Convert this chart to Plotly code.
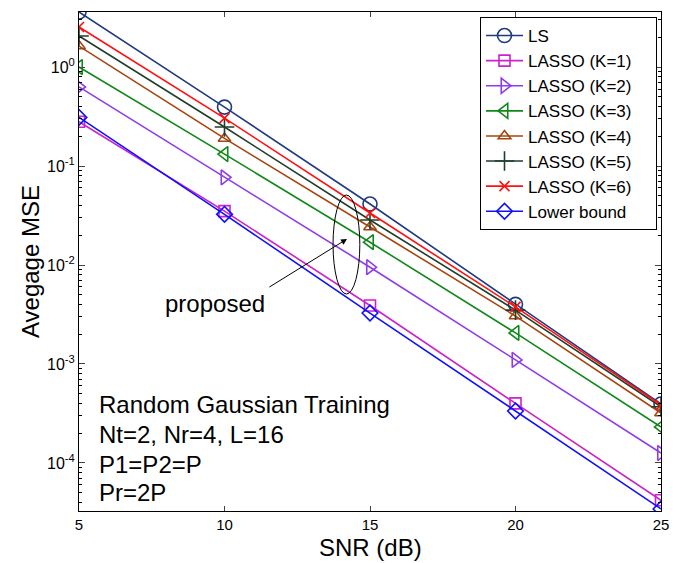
import plotly.graph_objects as go
import math

snr = [5, 10, 15, 20, 25]

ls_mse = [3.6, 0.394, 0.0413, 0.0040, 0.000394]
k1_mse = [0.28, 0.035, 0.0039, 0.00040, 0.000042]
k2_mse = [0.63, 0.077, 0.0095, 0.0011, 0.000126]
k3_mse = [1.0, 0.132, 0.017, 0.00206, 0.000231]
k4_mse = [1.63, 0.19, 0.0242, 0.00305, 0.00032]
k5_mse = [2.06, 0.248, 0.0285, 0.0035, 0.00037]
k6_mse = [2.54, 0.305, 0.0335, 0.00377, 0.000385]
lb_mse = [0.31, 0.0325, 0.00327, 0.000335, 0.0000343]

names = ["LS", "LASSO (K=1)", "LASSO (K=2)", "LASSO (K=3)", "LASSO (K=4)",
         "LASSO (K=5)", "LASSO (K=6)", "Lower bound"]
series = [ls_mse, k1_mse, k2_mse, k3_mse, k4_mse, k5_mse, k6_mse, lb_mse]
colors = ["#1F3A80", "#CC22CC", "#8F3BE8", "#11881A", "#A5450E",
          "#1F3F2C", "#FF1010", "#1010FF"]
symbols = ["circle-open", "square-open", "triangle-right-open", "triangle-left-open",
           "triangle-up-open", "cross-thin-open", "x-thin-open", "diamond-open"]
sizes = [14, 11, 13, 13, 11, 14, 10, 12]

ytick_vals = [1, 0.1, 0.01, 0.001, 0.0001]
ytick_text = ["10<sup>0</sup>", "10<sup>-1</sup>", "10<sup>-2</sup>",
              "10<sup>-3</sup>", "10<sup>-4</sup>"]
xtick_vals = [5, 10, 15, 20, 25]

info_lines = ["Random Gaussian Training", "Nt=2, Nr=4, L=16", "P1=P2=P", "Pr=2P"]

font_family = "Liberation Sans, Arial, sans-serif"

# The page body has an 8px margin, so the figure is drawn 8px in from the top-left.
PAGE_OFF = 8
PLOT_L, PLOT_R, PLOT_T, PLOT_B = 79, 661, 12, 511  # plot area in page pixels
FIG_W, FIG_H = 699 - PAGE_OFF, 563 - PAGE_OFF
PW, PH = PLOT_R - PLOT_L, PLOT_B - PLOT_T


def px(xp):
    return (xp - PLOT_L) / PW


def py(yp):
    return (PLOT_B - yp) / PH


LEGEND_PAD = "\u00a0" * 4  # widens the legend box like the reference

fig = go.Figure()
for name, vals, c, s, sz in zip(names, series, colors, symbols, sizes):
    fig.add_trace(go.Scatter(
        x=snr, y=vals, name=name + LEGEND_PAD, mode="lines+markers",
        line=dict(color=c, width=1.6),
        marker=dict(symbol=s, size=sz, color=c, line=dict(color=c, width=1.6)),
    ))

minor_vals = [m * 10.0 ** k for k in range(-5, 1) for m in range(2, 10)]

fig.update_layout(
    width=FIG_W, height=FIG_H,
    margin=dict(l=PLOT_L - PAGE_OFF, r=699 - PLOT_R, t=PLOT_T - PAGE_OFF,
                b=563 - PLOT_B, autoexpand=False),
    paper_bgcolor="white", plot_bgcolor="white",
    font=dict(family=font_family, color="black"),
    showlegend=True,
    legend=dict(
        x=px(657), y=py(17), xanchor="right", yanchor="top",
        bordercolor="black", borderwidth=1, bgcolor="white",
        font=dict(size=17, family=font_family),
        tracegroupgap=0, itemwidth=37,
    ),
)

fig.update_xaxes(
    range=[5, 25], tickvals=xtick_vals, ticks="inside", ticklen=5,
    showline=True, linecolor="black", linewidth=1, mirror="ticks",
    showgrid=False, zeroline=False, tickfont=dict(size=15), automargin=False,
    ticklabelstandoff=0,
)
fig.update_yaxes(
    type="log", range=[math.log10(3.27e-5), math.log10(3.6)],
    tickvals=ytick_vals, ticktext=ytick_text, ticks="inside", ticklen=6,
    minor=dict(tickvals=minor_vals, ticks="inside", ticklen=3, tickcolor="black"),
    showline=True, linecolor="black", linewidth=1, mirror="ticks",
    showgrid=False, zeroline=False, tickfont=dict(size=16), automargin=False,
    ticklabelstandoff=0,
)

# axis titles
fig.add_annotation(x=0.5, y=py(547), xref="paper", yref="paper", text="SNR (dB)",
                   showarrow=False, font=dict(size=24), xanchor="center", yanchor="middle")
fig.add_annotation(x=px(30), y=py(261), xref="paper", yref="paper", text="Avegage MSE",
                   showarrow=False, font=dict(size=24), textangle=-90,
                   xanchor="center", yanchor="middle")

# ellipse grouping the proposed curves (x in data units, y in paper units)
fig.add_shape(type="circle", xref="x", yref="paper",
              x0=13.73, x1=14.65, y0=py(294), y1=py(195),
              line=dict(color="black", width=1))

# arrow
fig.add_annotation(x=14.21, y=-1.737, ax=11.49, ay=-2.232,
                   xref="x", yref="y", axref="x", ayref="y",
                   showarrow=True, arrowhead=2, arrowsize=1.2, arrowwidth=1,
                   arrowcolor="black", text="")
fig.add_annotation(x=9.67, y=-2.384, xref="x", yref="y", text="proposed",
                   showarrow=False, font=dict(size=24), xanchor="center", yanchor="middle")

line_y_px = [404, 434, 464, 492]
for txt, ypx in zip(info_lines, line_y_px):
    fig.add_annotation(x=px(97), y=py(ypx), xref="paper", yref="paper",
                       text=txt, showarrow=False, xanchor="left", yanchor="middle",
                       font=dict(size=24))

fig.write_html("out.html")
